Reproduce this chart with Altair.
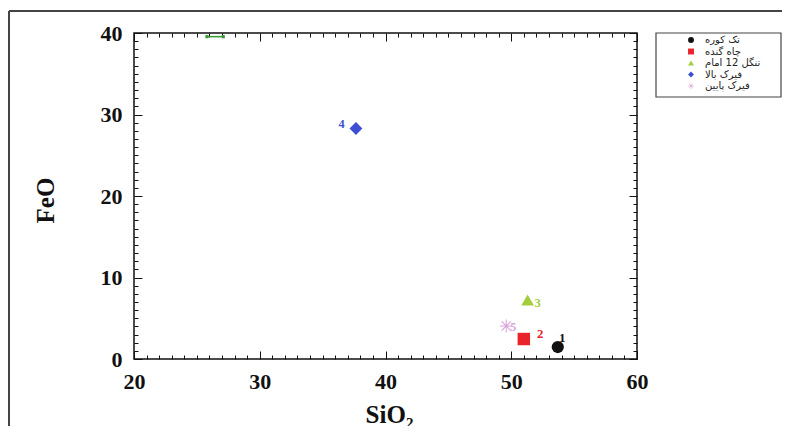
import altair as alt
import pandas as pd

# ---- data ----
sites = ["تک کوره", "چاه گنده", "تنگل 12 امام", "فیرک بالا", "فیرک پایین"]
sio2 = [53.7, 51.0, 51.3, 37.65, 49.6]
feo = [1.47, 2.45, 7.24, 28.28, 4.05]

point_labels = ["1", "2", "3", "4", "5"]
label_sio2 = [54.05, 52.3, 52.1, 36.5, 50.15]
label_feo = [2.6, 3.1, 6.9, 28.85, 3.95]

seg_sio2 = [25.8, 27.1]
seg_feo = [39.55, 39.55]

x_ticks = list(range(20, 61))
y_ticks = list(range(0, 41))

# ---- styles ----
ASTERISK = ("M-1,-0.08H1V0.08H-1Z"
            "M-0.08,-1H0.08V1H-0.08Z"
            "M-0.643,-0.757L0.757,0.643L0.643,0.757L-0.757,-0.643Z"
            "M-0.757,0.643L0.643,-0.757L0.757,-0.643L-0.643,0.757Z")
colors = ["#111111", "#e8232a", "#a3cd3b", "#3f4fd3", "#d9a3d9"]
shapes = ["circle", "square", "triangle-up", "diamond", ASTERISK]
sizes = [150, 170, 200, 300, 130]
label_sizes = [13, 12, 8, 12, 8]

SERIF = "Liberation Serif"

pts = pd.DataFrame({"site": sites, "SiO2": sio2, "FeO": feo})
lab = pd.DataFrame({"site": sites, "txt": point_labels, "SiO2": label_sio2, "FeO": label_feo})
seg = pd.DataFrame({"SiO2": seg_sio2, "FeO": seg_feo})

xscale = alt.Scale(domain=[20, 60], nice=False, zero=False)
yscale = alt.Scale(domain=[0, 40], nice=False)

tick_expr = {"expr": "datum.value % 10 === 0 ? -8 : -4"}

x_axis = alt.Axis(values=x_ticks, tickSize=tick_expr, labelExpr="datum.value % 10 === 0 ? datum.label : ''",
                  labelPadding=30, labelBaseline="middle", labelFlush=False, labelOverlap=False,
                  domain=False, grid=False, tickColor="#111", tickWidth=1,
                  labelFont=SERIF, labelFontWeight="bold", labelFontSize=22, labelColor="#111",
                  title="SiO₂", titleFont=SERIF, titleFontWeight="bold", titleFontSize=25,
                  titleColor="#111", titleX=255, titleY=55, titleBaseline="middle", titleAlign="center")
y_axis = alt.Axis(values=y_ticks, tickSize=tick_expr, labelExpr="datum.value % 10 === 0 ? datum.label : ''",
                  labelPadding=20, labelBaseline="middle", labelFlush=False, labelOverlap=False,
                  domain=False, grid=False, tickColor="#111", tickWidth=1,
                  labelFont=SERIF, labelFontWeight="bold", labelFontSize=22, labelColor="#111",
                  title="FeO", titleFont=SERIF, titleFontWeight="bold", titleFontSize=25,
                  titleColor="#111", titleX=-89, titleY=167, titleBaseline="middle", titleAlign="center",
                  titleAngle=270)

x_top = alt.Axis(orient="top", values=x_ticks, tickSize=tick_expr, labels=False, domain=False,
                 grid=False, tickColor="#111", tickWidth=1, title=None)
y_right = alt.Axis(orient="right", values=y_ticks, tickSize=tick_expr, labels=False, domain=False,
                   grid=False, tickColor="#111", tickWidth=1, title=None)

leg = dict(title=None, orient="none", legendX=552, legendY=2,
           symbolSize=35, symbolOffset=0, labelOffset=9,
           labelFont="DejaVu Sans", labelFontSize=10, labelColor="#222",
           rowPadding=1.5, padding=0)

points = alt.Chart(pts).mark_point(filled=True, opacity=1).encode(
    x=alt.X("SiO2:Q", scale=xscale, axis=x_axis),
    y=alt.Y("FeO:Q", scale=yscale, axis=y_axis),
    color=alt.Color("site:N", scale=alt.Scale(domain=sites, range=colors), legend=alt.Legend(**leg)),
    shape=alt.Shape("site:N", scale=alt.Scale(domain=sites, range=shapes), legend=alt.Legend(**leg)),
    size=alt.Size("site:N", scale=alt.Scale(domain=sites, range=sizes), legend=None),
)

mirror = alt.Chart(pts).mark_point(opacity=0).encode(
    x=alt.X("SiO2:Q", scale=xscale, axis=x_top),
    y=alt.Y("FeO:Q", scale=yscale, axis=y_right),
)

labels = alt.Chart(lab).mark_text(font=SERIF, fontWeight="bold", align="center", baseline="middle").encode(
    x=alt.X("SiO2:Q", scale=xscale, axis=None),
    y=alt.Y("FeO:Q", scale=yscale, axis=None),
    text="txt:N",
    color=alt.Color("site:N", scale=alt.Scale(domain=sites, range=colors), legend=None),
    size=alt.Size("site:N", scale=alt.Scale(domain=sites, range=label_sizes), legend=None),
)

segment = alt.Chart(seg).mark_line(color="#3a9a3a", strokeWidth=1.5,
                                   point=alt.OverlayMarkDef(shape="square", size=10, color="#3a9a3a", filled=True)).encode(
    x=alt.X("SiO2:Q", scale=xscale, axis=None),
    y=alt.Y("FeO:Q", scale=yscale, axis=None),
)

blank = alt.Data(values=[{}])
frame_top = alt.Chart(blank).mark_rule(color="#444", strokeWidth=2).encode(
    x=alt.value(-125), x2=alt.value(648), y=alt.value(-22))
frame_left = alt.Chart(blank).mark_rule(color="#444", strokeWidth=2).encode(
    x=alt.value(-125), y=alt.value(-22), y2=alt.value(400))
legend_box = alt.Chart(blank).mark_rect(fillOpacity=0, stroke="#444", strokeWidth=1.2).encode(
    x=alt.value(522), x2=alt.value(647), y=alt.value(0), y2=alt.value(64))

chart = alt.layer(points, mirror, labels, segment, frame_top, frame_left, legend_box).resolve_axis(
    x="independent", y="independent"
).resolve_scale(size="independent").properties(
    width=503, height=326,
    padding={"left": 126, "top": 25, "right": 145, "bottom": 67},
    autosize=alt.AutoSizeParams(type="none"),
    background="white",
).configure_view(stroke="#111", strokeWidth=1.5)

chart.save("out.html", embed_options={"renderer": "svg", "actions": False})
